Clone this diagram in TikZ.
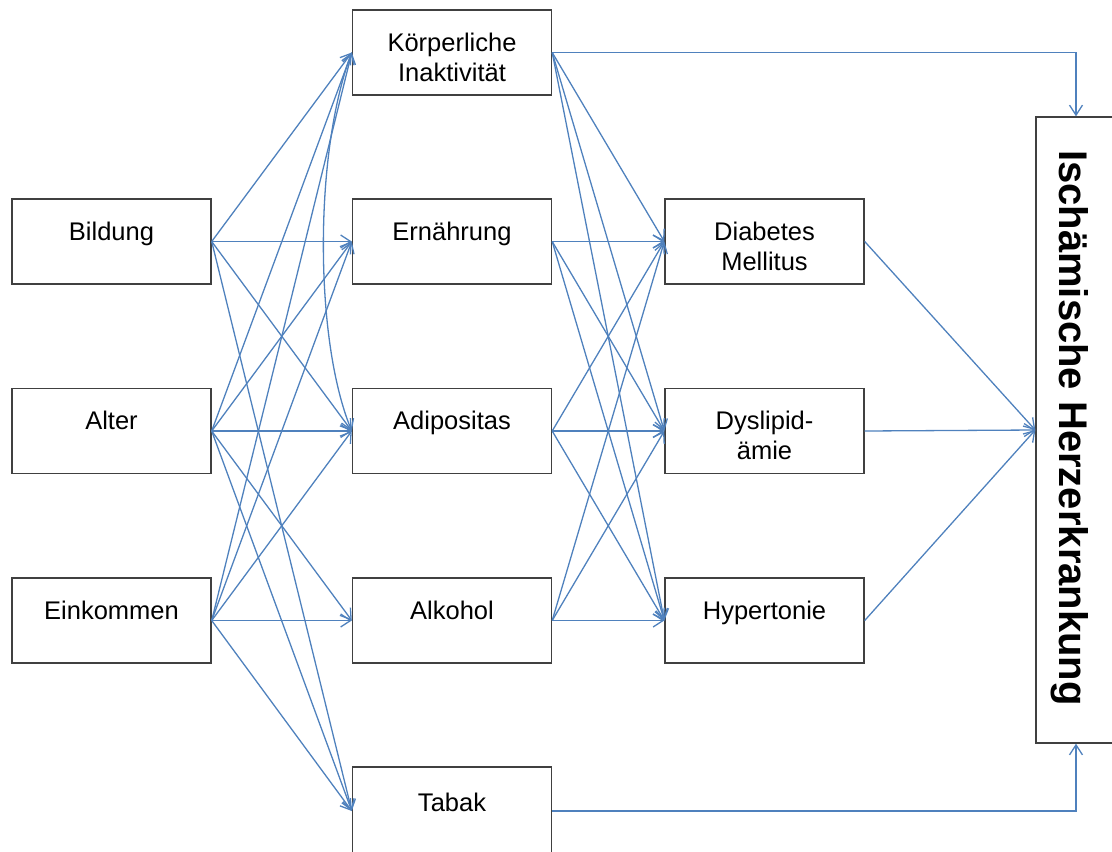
\documentclass[tikz,border=0pt]{standalone}
\usepackage{fontspec}
\setmainfont{Liberation Sans}
\usetikzlibrary{arrows.meta}
\definecolor{lineblue}{HTML}{4F81BD}
\definecolor{boxgray}{HTML}{404040}
\begin{document}
\begin{tikzpicture}[x=1pt,y=-1pt,
  box/.style={draw=boxgray, line width=1.4pt, minimum width=199pt, minimum height=85pt,
    inner sep=0pt, align=center, font=\fontsize{25.5}{30}\selectfont},
  one/.style={text height=20pt, text depth=23pt},
  two/.style={text height=60pt, text depth=3pt},
  conn/.style={draw=lineblue, line width=1.3pt, -{Straight Barb[length=10pt,width=13pt]}},
]
\useasboundingbox (0,0) rectangle (1112,852);
% left column
\node[box,one] (bild) at (111.5,241.5) {Bildung};
\node[box,one] (alter) at (111.5,431) {Alter};
\node[box,one] (eink) at (111.5,620.5) {Einkommen};
% middle column
\node[box,two] (koerp) at (452,52.5) {Körperliche\\Inaktivität};
\node[box,one] (ern) at (452,241.5) {Ernährung};
\node[box,one] (adip) at (452,431) {Adipositas};
\node[box,one] (alk) at (452,620.5) {Alkohol};
\node[box,one, minimum height=88pt, text height=21.5pt, text depth=21.5pt] (tabak) at (452,811) {Tabak};
% third column
\node[box,two] (diab) at (764.5,241.5) {Diabetes\\Mellitus};
\node[box,two] (dysl) at (764.5,431) {Dyslipid-\\ämie};
\node[box,one] (hyper) at (764.5,620.5) {Hypertonie};
% right box
\node[draw=boxgray, line width=1.4pt, minimum width=80pt, minimum height=626pt, inner sep=0pt] (ihk) at (1076,430) {};
\node[rotate=-90, font=\bfseries\fontsize{40}{48}\selectfont, inner sep=0pt] (ihktext) at (1070,428) {Ischämische Herzerkrankung};
% left -> middle
\foreach \s/\t in {bild/koerp, bild/ern, bild/adip, bild/tabak,
  alter/koerp, alter/ern, alter/adip, alter/alk, alter/tabak,
  eink/koerp, eink/ern, eink/adip, eink/alk, eink/tabak}
  \draw[conn] (\s.east) -- (\t.west);
% curved koerp -> adip
\draw[conn] (koerp.west) .. controls (314,150) and (314,340) .. (adip.west);
% middle -> third
\foreach \s in {koerp, ern, adip, alk}
  \foreach \t in {diab, dysl, hyper}
    \draw[conn] (\s.east) -- (\t.west);
% third -> right box
\foreach \s in {diab, dysl, hyper}
  \draw[conn] (\s.east) -- (ihk.west);
\draw[conn] (koerp.east) -| (ihk.north);
\draw[conn] (tabak.east) -| (ihk.south);
\end{tikzpicture}
\end{document}
